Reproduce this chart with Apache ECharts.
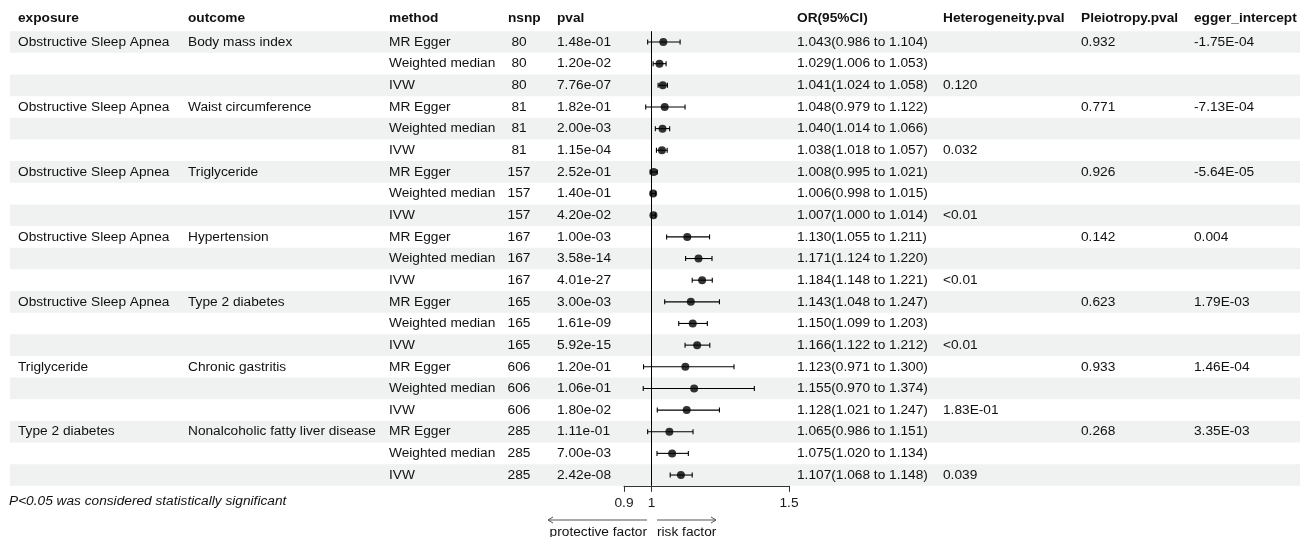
<!DOCTYPE html>
<html>
<head>
<meta charset="utf-8">
<script src="https://cdn.jsdelivr.net/npm/echarts@6/dist/echarts.min.js"></script>
<style>html,body{margin:0;padding:0;background:#fff;}#chart{width:1306px;height:537px;}</style>
</head>
<body>
<div id="chart"></div>
<script>
// ---------------- data ----------------
const exposures = ['Obstructive Sleep Apnea','Obstructive Sleep Apnea','Obstructive Sleep Apnea','Obstructive Sleep Apnea','Obstructive Sleep Apnea','Triglyceride','Type 2 diabetes'];
const outcomes = ['Body mass index','Waist circumference','Triglyceride','Hypertension','Type 2 diabetes','Chronic gastritis','Nonalcoholic fatty liver disease'];
const methods = ['MR Egger','Weighted median','IVW'];
const nsnps = [80, 81, 157, 167, 165, 606, 285];
const pvals = ['1.48e-01','1.20e-02','7.76e-07',
               '1.82e-01','2.00e-03','1.15e-04',
               '2.52e-01','1.40e-01','4.20e-02',
               '1.00e-03','3.58e-14','4.01e-27',
               '3.00e-03','1.61e-09','5.92e-15',
               '1.20e-01','1.06e-01','1.80e-02',
               '1.11e-01','7.00e-03','2.42e-08'];
const orValues = [1.043,1.029,1.041, 1.048,1.040,1.038, 1.008,1.006,1.007, 1.130,1.171,1.184, 1.143,1.150,1.166, 1.123,1.155,1.128, 1.065,1.075,1.107];
const ciLow    = [0.986,1.006,1.024, 0.979,1.014,1.018, 0.995,0.998,1.000, 1.055,1.124,1.148, 1.048,1.099,1.122, 0.971,0.970,1.021, 0.986,1.020,1.068];
const ciHigh   = [1.104,1.053,1.058, 1.122,1.066,1.057, 1.021,1.015,1.014, 1.211,1.220,1.221, 1.247,1.203,1.212, 1.300,1.374,1.247, 1.151,1.134,1.148];
const heterogeneityP = ['0.120','0.032','<0.01','<0.01','<0.01','1.83E-01','0.039'];
const pleiotropyP = ['0.932','0.771','0.926','0.142','0.623','0.933','0.268'];
const eggerIntercepts = ['-1.75E-04','-7.13E-04','-5.64E-05','0.004','1.79E-03','1.46E-04','3.35E-03'];
const headers = ['exposure','outcome','method','nsnp','pval','OR(95%CI)','Heterogeneity.pval','Pleiotropy.pval','egger_intercept'];
const axisTicks = [0.9, 1, 1.5];
const footnote = 'P<0.05 was considered statistically significant';

// ---------------- layout (not data) ----------------
const FONT = 'Liberation Sans, Arial, Helvetica, sans-serif';
const FS = 13.7;
const colX = [18, 188, 389, 508, 557, 797, 943, 1081, 1194];
const nsnpCenter = 519;
const ROW_TOP = 31.2, ROW_H = 21.65, NROW = 21;

// build table cells
const rowsIdx = [];
for (let i = 0; i < NROW; i++) rowsIdx.push(i);
const cells = [];
for (let i = 0; i < NROW; i++) {
  const g = Math.floor(i / 3), m = i % 3;
  if (m === 0) {
    cells.push([colX[0], i, exposures[g], 'left']);
    cells.push([colX[1], i, outcomes[g], 'left']);
    cells.push([colX[7], i, pleiotropyP[g], 'left']);
    cells.push([colX[8], i, eggerIntercepts[g], 'left']);
  }
  if (m === 2) cells.push([colX[6], i, heterogeneityP[g], 'left']);
  cells.push([colX[2], i, methods[m], 'left']);
  cells.push([nsnpCenter, i, String(nsnps[g]), 'center']);
  cells.push([colX[4], i, pvals[i], 'left']);
  cells.push([colX[5], i, orValues[i].toFixed(3) + '(' + ciLow[i].toFixed(3) + ' to ' + ciHigh[i].toFixed(3) + ')', 'left']);
}
const headerCells = headers.map((h, k) => [colX[k], 0, h]);
const ciData = rowsIdx.map(i => [i, ciLow[i], ciHigh[i]]);
const pointData = rowsIdx.map(i => [orValues[i], i]);

const chart = echarts.init(document.getElementById('chart'), null, {renderer: 'canvas'});
const option = {
  animation: false,
  backgroundColor: '#ffffff',
  grid: [
    {left: 10, right: 6, top: ROW_TOP, height: ROW_H * NROW},
    {left: 624, width: 165, top: ROW_TOP, height: ROW_H * NROW}
  ],
  xAxis: [
    {gridIndex: 0, type: 'value', min: 10, max: 1300, show: false},
    {gridIndex: 1, type: 'value', min: 0.9, max: 1.5,
     axisLine: {show: true, onZero: false, lineStyle: {color: '#333', width: 1}},
     axisTick: {show: true, customValues: axisTicks, length: 6, inside: false, lineStyle: {color: '#333', width: 1}},
     axisLabel: {show: true, customValues: axisTicks, margin: 10, color: '#1a1a1a', fontSize: FS, fontFamily: FONT,
                 formatter: v => String(+v.toFixed(2))},
     splitLine: {show: false}}
  ],
  yAxis: [
    {gridIndex: 0, type: 'category', inverse: true, data: rowsIdx,
     axisLine: {show: false}, axisTick: {show: false}, axisLabel: {show: false},
     splitLine: {show: false},
     splitArea: {show: true, areaStyle: {color: ['#eff2f1', 'rgba(255,255,255,0)']}}},
    {gridIndex: 1, type: 'category', inverse: true, data: rowsIdx, show: false}
  ],
  series: [
    {
      type: 'custom', xAxisIndex: 0, yAxisIndex: 0, silent: true,
      data: cells, encode: {x: 0, y: 1},
      renderItem: (params, api) => {
        const d = cells[params.dataIndex];
        const p = api.coord([d[0], d[1]]);
        return {type: 'text', x: p[0], y: p[1],
          style: {text: d[2], fill: '#111', fontSize: FS, fontFamily: FONT, align: d[3], verticalAlign: 'middle'}};
      }
    },
    {
      type: 'custom', xAxisIndex: 0, yAxisIndex: 0, silent: true,
      data: headerCells, encode: {x: 0, y: 1},
      renderItem: (params, api) => {
        const d = headerCells[params.dataIndex];
        const p = api.coord([d[0], d[1]]);
        const bh = api.size([0, 1])[1];
        return {type: 'text', x: p[0], y: p[1] - bh * 1.1,
          style: {text: d[2], fill: '#111', fontSize: FS, fontWeight: 'bold', fontFamily: FONT, align: 'left', verticalAlign: 'middle'}};
      }
    },
    {
      type: 'custom', xAxisIndex: 1, yAxisIndex: 1, silent: true,
      data: ciData, encode: {x: [1, 2], y: 0},
      renderItem: (params, api) => {
        const r = api.value(0);
        const a = api.coord([api.value(1), r]);
        const b = api.coord([api.value(2), r]);
        const h = 2.5;
        const st = {stroke: '#000', lineWidth: 1.1};
        return {type: 'group', children: [
          {type: 'line', shape: {x1: a[0], y1: a[1], x2: b[0], y2: b[1]}, style: st},
          {type: 'line', shape: {x1: a[0], y1: a[1] - h, x2: a[0], y2: a[1] + h}, style: st},
          {type: 'line', shape: {x1: b[0], y1: b[1] - h, x2: b[0], y2: b[1] + h}, style: st}
        ]};
      }
    },
    {
      type: 'scatter', xAxisIndex: 1, yAxisIndex: 1, silent: true,
      data: pointData, symbol: 'circle', symbolSize: 8,
      itemStyle: {color: '#000'},
      markLine: {silent: true, symbol: ['none', 'none'], label: {show: false},
        lineStyle: {color: '#000', width: 1, type: 'solid'},
        data: [{xAxis: 1}]}
    }
  ],
  graphic: [
    {type: 'text', left: 9, top: 494,
     style: {text: footnote, fill: '#111', fontSize: FS, fontStyle: 'italic', fontFamily: FONT}},
    {type: 'polyline', shape: {points: [[647, 520], [548, 520]]}, style: {stroke: '#555', lineWidth: 1}},
    {type: 'polyline', shape: {points: [[553, 517], [548, 520], [553, 523]]}, style: {stroke: '#555', lineWidth: 1, fill: null}},
    {type: 'polyline', shape: {points: [[657, 520], [716, 520]]}, style: {stroke: '#555', lineWidth: 1}},
    {type: 'polyline', shape: {points: [[711, 517], [716, 520], [711, 523]]}, style: {stroke: '#555', lineWidth: 1, fill: null}},
    {type: 'text', x: 647, y: 532,
     style: {text: 'protective factor', fill: '#111', fontSize: FS, fontFamily: FONT, align: 'right', verticalAlign: 'middle'}},
    {type: 'text', x: 657, y: 532,
     style: {text: 'risk factor', fill: '#111', fontSize: FS, fontFamily: FONT, align: 'left', verticalAlign: 'middle'}}
  ]
};
chart.setOption(option);
</script>
</body>
</html>
